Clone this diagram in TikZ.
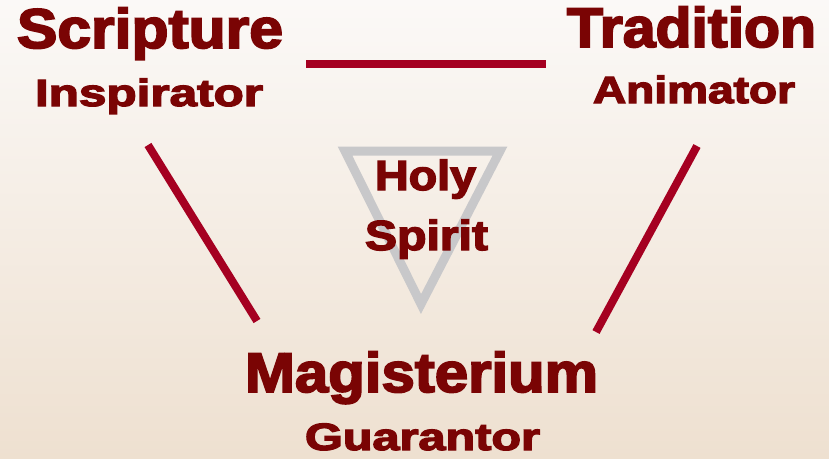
\documentclass[tikz,border=0pt]{standalone}
\usepackage{fontspec}
\usepackage{graphicx}
\newfontfamily\heavy{Liberation Sans}[BoldFeatures={FakeBold=3.2}]
\definecolor{txtred}{RGB}{122,4,4}
\definecolor{linered}{RGB}{165,0,33}
\definecolor{trigray}{RGB}{200,200,202}
\definecolor{bgtop}{RGB}{251,249,247}
\definecolor{bgbot}{RGB}{238,224,208}
\newcommand{\fitw}[2]{\resizebox{#1}{\height}{#2}}
\begin{document}
\begin{tikzpicture}[x=1pt,y=-1pt,
  lbl/.style={anchor=base west,inner sep=0pt,outer sep=0pt,text=txtred,font=\heavy\bfseries},
  big/.style={lbl,font=\heavy\bfseries\fontsize{56}{60}\selectfont},
  small/.style={lbl,font=\heavy\bfseries\fontsize{38}{42}\selectfont},
  mid/.style={lbl,font=\heavy\bfseries\fontsize{42}{46}\selectfont},
  link/.style={draw=linered,line width=8pt},
  tri/.style={draw=trigray,line width=9pt,line join=miter}]
\useasboundingbox (0,0) rectangle (829,458);
\shade[top color=bgtop,bottom color=bgbot] (0,0) rectangle (829,458);
% triangle
\coordinate (tl) at (345,151);
\coordinate (tr) at (500,151);
\coordinate (tb) at (421,304);
\draw[tri] (tl) -- (tr) -- (tb) -- cycle;
% texts
\node[big] (scr) at (17,48) {\fitw{266pt}{Scripture}};
\node[small] (insp) at (35,106) {\fitw{228pt}{Inspirator}};
\node[big] (trad) at (567,47) {\fitw{249pt}{Tradition}};
\node[small] (anim) at (593,103) {\fitw{202pt}{Animator}};
\node[big] (mag) at (245,392) {\fitw{353pt}{Magisterium}};
\node[small] (guar) at (305,450) {\fitw{235pt}{Guarantor}};
\node[mid] (holy) at (375,190) {\fitw{101pt}{Holy}};
\node[mid] (spir) at (365,250) {\fitw{123pt}{Spirit}};
% connectors
\coordinate (a1) at (306,64);
\coordinate (a2) at (546,64);
\coordinate (b1) at (148,145);
\coordinate (b2) at (257,321);
\coordinate (c1) at (697,146);
\coordinate (c2) at (596,332);
\draw[link] (a1) -- (a2);
\draw[link] (b1) -- (b2);
\draw[link] (c1) -- (c2);
\end{tikzpicture}
\end{document}
